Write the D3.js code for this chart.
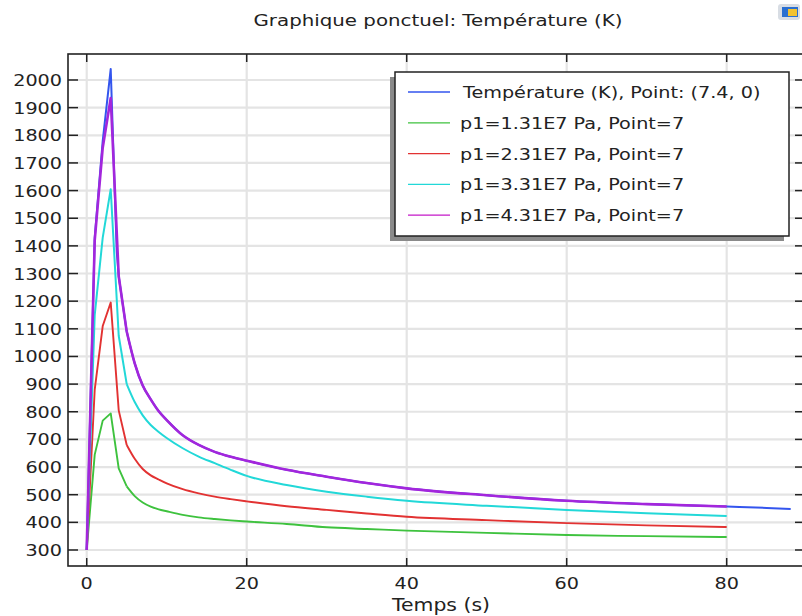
<!DOCTYPE html>
<html>
<head>
<meta charset="utf-8">
<script src="https://cdn.jsdelivr.net/npm/d3@7"></script>
<style>
  body { margin: 0; background: #fff; }
  text { font-family: "DejaVu Sans", sans-serif; fill: #222; }
</style>
</head>
<body>
<div id="chart"></div>
<script>
var svgWidth = 802;
var svgHeight = 616;

// plot frame (right edge falls just outside the window, like the screenshot)
var frame = { left: 68, top: 54, right: 803, bottom: 566 };

// data
var times = [0, 1, 2, 3, 4, 5, 6, 7, 8, 9, 10, 12, 14, 16, 18, 20, 25, 30, 35, 40, 50, 60, 70, 80];
var green = [300, 645, 768, 794, 595, 530, 495, 472, 457, 447, 440, 427, 418, 412, 407, 403, 394, 382, 376, 370, 362, 354, 350, 347];
var red = [300, 880, 1110, 1195, 805, 680, 630, 593, 570, 555, 541, 520, 505, 493, 484, 476, 458, 445, 432, 420, 408, 397, 389, 383];
var cyan = [300, 1150, 1430, 1605, 1075, 900, 835, 787, 752, 727, 705, 668, 638, 614, 590, 568, 535, 511, 493, 478, 460, 445, 433, 423];
var purple = [300, 1420, 1755, 1935, 1290, 1090, 975, 895, 845, 802, 770, 715, 680, 655, 637, 623, 590, 565, 542, 523, 498, 478, 466, 457];

var blueTimes = [0, 1, 2, 3, 3.75, 4, 5, 6, 7, 8, 9, 10, 12, 14, 16, 18, 20, 25, 30, 35, 40, 50, 60, 70, 80, 85, 88];
var blue = [300, 1430, 1780, 2040, 1380, 1290, 1090, 975, 895, 845, 802, 770, 715, 680, 655, 637, 623, 590, 565, 542, 523, 498, 478, 466, 457, 452, 448];

var xTicks = [0, 20, 40, 60, 80];
var yTicks = [300, 400, 500, 600, 700, 800, 900, 1000, 1100, 1200, 1300, 1400, 1500, 1600, 1700, 1800, 1900, 2000];

var legendLabels = [
    "Température (K), Point: (7.4, 0)",
    "p1=1.31E7 Pa, Point=7",
    "p1=2.31E7 Pa, Point=7",
    "p1=3.31E7 Pa, Point=7",
    "p1=4.31E7 Pa, Point=7"
];
var colors = ["#3355ee", "#3ec23e", "#e23232", "#22d8d8", "#a326dc"];
var widths = [2, 1.9, 1.9, 2, 2.6];

var series = [
    { t: blueTimes, v: blue },
    { t: times, v: green },
    { t: times, v: red },
    { t: times, v: cyan },
    { t: times, v: purple }
];

// the screenshot is stretched sideways, so text gets the same stretch
var stretch = 1.2;

var svg = d3.select("#chart")
    .append("svg")
    .attr("width", svgWidth)
    .attr("height", svgHeight);

var x = d3.scaleLinear()
    .domain([-2.34, 89.54])
    .range([frame.left, frame.right]);

var y = d3.scaleLinear()
    .domain([242.1, 2094])
    .range([frame.bottom, frame.top]);

function label(g, tx, ty, str, anchor, size) {
    return g.append("text")
        .attr("transform", `translate(${tx},${ty}) scale(${stretch},1)`)
        .attr("text-anchor", anchor)
        .attr("font-size", size)
        .text(str);
}

// grid
var grid = svg.append("g");
grid.selectAll(".gx")
    .data(xTicks)
    .enter()
    .append("line")
    .attr("x1", d => x(d)).attr("x2", d => x(d))
    .attr("y1", frame.top).attr("y2", frame.bottom)
    .attr("stroke", "#e4e4e4")
    .attr("stroke-width", 2.2);
grid.selectAll(".gy")
    .data(yTicks)
    .enter()
    .append("line")
    .attr("x1", frame.left).attr("x2", frame.right)
    .attr("y1", d => y(d)).attr("y2", d => y(d))
    .attr("stroke", "#e4e4e4")
    .attr("stroke-width", 2.2);

// curves: straight segments through the spike, smooth tail after
var headLine = d3.line().x(d => x(d[0])).y(d => y(d[1]));
var tailLine = d3.line().x(d => x(d[0])).y(d => y(d[1])).curve(d3.curveMonotoneX);

var curves = svg.append("g");
series.forEach(function(s, i) {
    var pts = s.t.map((t, j) => [t, s.v[j]]);
    var head = pts.filter(p => p[0] <= 5);
    var tail = pts.filter(p => p[0] >= 5);
    [[head, headLine], [tail, tailLine]].forEach(function(part) {
        curves.append("path")
            .attr("d", part[1](part[0]))
            .attr("fill", "none")
            .attr("stroke", colors[i])
            .attr("stroke-width", widths[i])
            .attr("stroke-linejoin", "round");
    });
});

// frame and inward ticks
var axes = svg.append("g");
axes.append("rect")
    .attr("x", frame.left).attr("y", frame.top)
    .attr("width", frame.right - frame.left)
    .attr("height", frame.bottom - frame.top)
    .attr("fill", "none")
    .attr("stroke", "#222")
    .attr("stroke-width", 1.6);

xTicks.forEach(function(d) {
    axes.append("line")
        .attr("x1", x(d)).attr("x2", x(d))
        .attr("y1", frame.bottom).attr("y2", frame.bottom - 8)
        .attr("stroke", "#222").attr("stroke-width", 1.5);
    axes.append("line")
        .attr("x1", x(d)).attr("x2", x(d))
        .attr("y1", frame.top).attr("y2", frame.top + 8)
        .attr("stroke", "#222").attr("stroke-width", 1.5);
    label(axes, x(d), 589, d3.format("d")(d), "middle", 16);
});

yTicks.forEach(function(d) {
    axes.append("line")
        .attr("x1", frame.left).attr("x2", frame.left + 10)
        .attr("y1", y(d)).attr("y2", y(d))
        .attr("stroke", "#222").attr("stroke-width", 1.5);
    axes.append("line")
        .attr("x1", frame.right - 8).attr("x2", frame.right)
        .attr("y1", y(d)).attr("y2", y(d))
        .attr("stroke", "#222").attr("stroke-width", 1.5);
    label(axes, 62, y(d) + 6, d3.format("d")(d), "end", 16);
});

// titles
label(svg, 438, 26, "Graphique ponctuel: Température (K)", "middle", 16.5);
label(svg, 441, 611, "Temps (s)", "middle", 17);

// small toolbar icon at top right
var icon = svg.append("g").attr("transform", "translate(778,4)");
icon.append("rect").attr("width", 22).attr("height", 16).attr("rx", 3).attr("fill", "#d8dde4");
icon.append("rect").attr("x", 4).attr("y", 3).attr("width", 16).attr("height", 10).attr("fill", "#2a6fd0");
icon.append("rect").attr("x", 10).attr("y", 5).attr("width", 9).attr("height", 7).attr("fill", "#f2c230");

// legend with its drop shadow
var legend = svg.append("g");
legend.append("rect")
    .attr("x", 390).attr("y", 77)
    .attr("width", 394).attr("height", 164)
    .attr("fill", "#8a8a8a");
legend.append("rect")
    .attr("x", 395).attr("y", 72)
    .attr("width", 394).attr("height", 164)
    .attr("fill", "#fff")
    .attr("stroke", "#222")
    .attr("stroke-width", 1.5);

legendLabels.forEach(function(name, i) {
    var ly = 92 + i * 30.8;
    legend.append("line")
        .attr("x1", 408).attr("x2", 450)
        .attr("y1", ly).attr("y2", ly)
        .attr("stroke", i === 4 ? "#c418c8" : colors[i])
        .attr("stroke-width", 1.3);
    label(legend, i === 0 ? 463 : 460, ly + 6, name, "start", 16);
});
</script>
</body>
</html>
